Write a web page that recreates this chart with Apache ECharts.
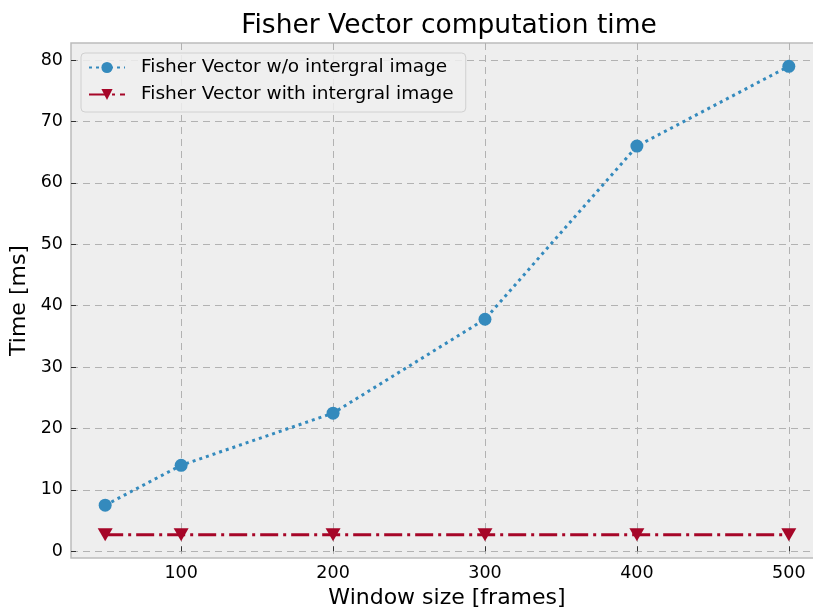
<!DOCTYPE html>
<html>
<head>
<meta charset="utf-8">
<script src="https://cdn.jsdelivr.net/npm/echarts@6/dist/echarts.min.js"></script>
<style>
  html, body { margin: 0; padding: 0; background: #fff; }
  #panel { width: 813px; height: 613px; }
</style>
</head>
<body>
<div id="panel"></div>
<script>
// 窗口大小 (frames)
var windowSizes = [50, 100, 200, 300, 400, 500];
// 计算时间 (ms)
var timeNoIntegral = [7.5, 14.0, 22.5, 37.8, 66.0, 79.0];
var timeIntegral = [2.7, 2.7, 2.7, 2.7, 2.7, 2.7];
var xTicks = [100, 200, 300, 400, 500];
var yTicks = [0, 10, 20, 30, 40, 50, 60, 70, 80];
var seriesNames = ['Fisher Vector w/o intergral image', 'Fisher Vector with intergral image'];

function pairs(xs, ys) {
    return xs.map(function (x, i) { return [x, ys[i]]; });
}

var font = 'DejaVu Sans';
chartDom = document.getElementById('panel');
myChart = echarts.init(chartDom);

myChart.setOption({
    animation: false,
    backgroundColor: '#ffffff',
    title: {
        text: 'Fisher Vector computation time',
        left: 444, top: 8, textAlign: 'center',
        textStyle: { fontFamily: font, fontSize: 26.5, fontWeight: 'normal', color: '#000' }
    },
    grid: {
        left: 71, top: 43, width: 752, height: 515,
        outerBoundsMode: 'none', containLabel: false,
        show: true, backgroundColor: '#eeeeee', borderColor: '#bcbcbc', borderWidth: 1.5
    },
    legend: {
        left: 81, top: 53, orient: 'vertical',
        itemWidth: 36, itemHeight: 14, itemGap: 8,
        padding: [5, 12, 8, 7],
        backgroundColor: 'rgba(238,238,238,0.85)',
        borderColor: '#d0d0d0', borderWidth: 1, borderRadius: 4,
        textStyle: { fontFamily: font, fontSize: 18.5, color: '#000', padding: [0, 0, 0, 11] },
        data: seriesNames
    },
    xAxis: {
        type: 'value', min: 27.5, max: 522.5,
        name: 'Window size [frames]', nameLocation: 'middle', nameGap: 23,
        nameTextStyle: { fontFamily: font, fontSize: 22, color: '#000' },
        axisLine: { show: false },
        axisTick: { show: true, inside: true, customValues: xTicks, length: 5, lineStyle: { color: '#333' } },
        axisLabel: { customValues: xTicks, fontFamily: font, fontSize: 17.5, color: '#000', margin: 6 },
        splitLine: { show: true, lineStyle: { color: '#b2b2b2', type: [7, 5], width: 1 } }
    },
    yAxis: {
        type: 'value', min: -1.1, max: 82.8,
        name: 'Time [ms]', nameLocation: 'middle', nameGap: 27,
        nameTextStyle: { fontFamily: font, fontSize: 22, color: '#000' },
        axisLine: { show: false },
        axisTick: { show: true, inside: true, customValues: yTicks, length: 5, lineStyle: { color: '#333' } },
        axisLabel: { customValues: yTicks, fontFamily: font, fontSize: 17.5, color: '#000', margin: 8 },
        splitLine: { show: true, lineStyle: { color: '#b2b2b2', type: [7, 5], width: 1 } }
    },
    series: [
        {
            name: seriesNames[0], type: 'line',
            data: pairs(windowSizes, timeNoIntegral),
            symbol: 'circle', symbolSize: 13,
            itemStyle: { color: '#348ABD' },
            lineStyle: { color: '#348ABD', width: 3, type: [3, 4] }
        },
        {
            name: seriesNames[1], type: 'line',
            data: pairs(windowSizes, timeIntegral),
            symbol: 'triangle', symbolRotate: 180, symbolSize: [15, 13],
            itemStyle: { color: '#A60628' },
            lineStyle: { color: '#A60628', width: 3, type: [18, 5, 3, 5] }
        }
    ]
});
</script>
</body>
</html>
